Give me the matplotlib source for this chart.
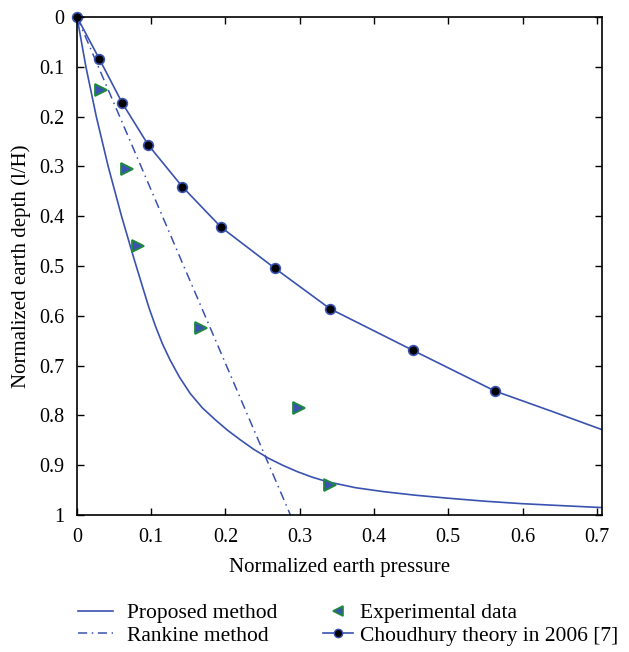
import matplotlib
matplotlib.use("Agg")
import matplotlib.pyplot as plt
from matplotlib.lines import Line2D

# Proposed method curve (x: normalized pressure, y: normalized depth)
proposed_x = [0.0, 0.012, 0.026, 0.042, 0.060, 0.0773, 0.091, 0.097, 0.106, 0.115,
              0.1255, 0.138, 0.1525, 0.169, 0.1865, 0.203, 0.220, 0.238, 0.258, 0.277,
              0.297, 0.317, 0.337, 0.375, 0.413, 0.455, 0.499, 0.548, 0.598, 0.652, 0.708]
proposed_y = [0.0, 0.1, 0.2, 0.3, 0.4, 0.488, 0.555, 0.584, 0.622, 0.656,
              0.689, 0.723, 0.756, 0.785, 0.809, 0.830, 0.849, 0.868, 0.886, 0.900,
              0.913, 0.924, 0.933, 0.945, 0.953, 0.960, 0.966, 0.972, 0.977, 0.981, 0.985]

# Rankine method
rankine_x = [0.0, 0.2875]
rankine_y = [0.0, 1.0]

# Experimental data
exp_x = [0.033, 0.068, 0.082, 0.167, 0.299, 0.341]
exp_y = [0.147, 0.306, 0.460, 0.625, 0.785, 0.940]

# Choudhury theory in 2006 [7]
ch_x = [0.0, 0.030, 0.061, 0.096, 0.142, 0.194, 0.266, 0.341, 0.452, 0.563]
ch_y = [0.0, 0.084, 0.173, 0.257, 0.341, 0.422, 0.504, 0.586, 0.669, 0.751]
ch_line_x = [0.0, 0.030, 0.061, 0.096, 0.142, 0.194, 0.266, 0.341, 0.452, 0.563, 0.640, 0.708]
ch_line_y = [0.0, 0.084, 0.173, 0.257, 0.341, 0.422, 0.504, 0.586, 0.669, 0.751, 0.792, 0.829]

xticks = [0, 0.1, 0.2, 0.3, 0.4, 0.5, 0.6, 0.7]
xticklabels = ["0", "0.1", "0.2", "0.3", "0.4", "0.5", "0.6", "0.7"]
yticks = [0, 0.1, 0.2, 0.3, 0.4, 0.5, 0.6, 0.7, 0.8, 0.9, 1.0]
yticklabels = ["0", "0.1", "0.2", "0.3", "0.4", "0.5", "0.6", "0.7", "0.8", "0.9", "1"]

plt.rcParams['font.family'] = ['Liberation Serif', 'DejaVu Serif']

blue = '#3a52b0'
green = '#1e8a3c'
dashdot = (0, (6, 3, 1, 3))

fig = plt.figure(figsize=(6.29, 6.52), dpi=100)
ax = fig.add_axes([0.1224, 0.210, 0.8346, 0.764])

ax.plot(proposed_x, proposed_y, color=blue, lw=1.2)
ax.plot(rankine_x, rankine_y, color=blue, lw=1.1, ls=dashdot)
ax.plot(exp_x, exp_y, ls='none', marker='>', ms=8, mfc=blue, mec=green, mew=1.3)
ax.plot(ch_line_x, ch_line_y, color=blue, lw=1.2)
ax.plot(ch_x, ch_y, ls='none', marker='o', ms=7, mfc='black', mec=blue, mew=1.2, clip_on=False)

ax.set_xlim(0, 0.707)
ax.set_ylim(1, 0)
ax.set_xticks(xticks)
ax.set_xticklabels(xticklabels)
ax.set_yticks(yticks)
ax.set_yticklabels(yticklabels)
ax.tick_params(direction='in', top=True, right=True, length=5, width=1, labelsize=14.5)
ax.tick_params(axis='x', pad=9)
ax.tick_params(axis='y', pad=9)
for s in ax.spines.values():
    s.set_linewidth(1.2)

ax.set_xlabel("Normalized earth pressure", fontsize=15, labelpad=8)
ax.set_ylabel("Normalized earth depth (l/H)", fontsize=15, labelpad=6)

h1 = [Line2D([], [], color=blue, lw=1.2),
      Line2D([], [], color=blue, lw=1.1, ls=dashdot)]
l1 = ["Proposed method", "Rankine method"]
h2 = [Line2D([], [], ls='none', marker='<', ms=7, mfc=blue, mec=green, mew=1.2),
      Line2D([], [], color=blue, lw=1.2, marker='o', ms=6, mfc='black', mec=blue)]
l2 = ["Experimental data", "Choudhury theory in 2006 [7]"]

fs = 15.5
leg1 = fig.legend(h1, l1, loc='upper left', bbox_to_anchor=(78 / 629, 1 - 603 / 652),
                  frameon=False, fontsize=fs, handlelength=1.62, labelspacing=0.12,
                  handletextpad=0.65, borderpad=0, borderaxespad=0)
leg2 = fig.legend(h2, l2, loc='upper left', bbox_to_anchor=(323 / 629, 1 - 603 / 652),
                  frameon=False, fontsize=fs, handlelength=1.4, labelspacing=0.12,
                  handletextpad=0.3, borderpad=0, borderaxespad=0)

fig.savefig("out.png", dpi=100)
